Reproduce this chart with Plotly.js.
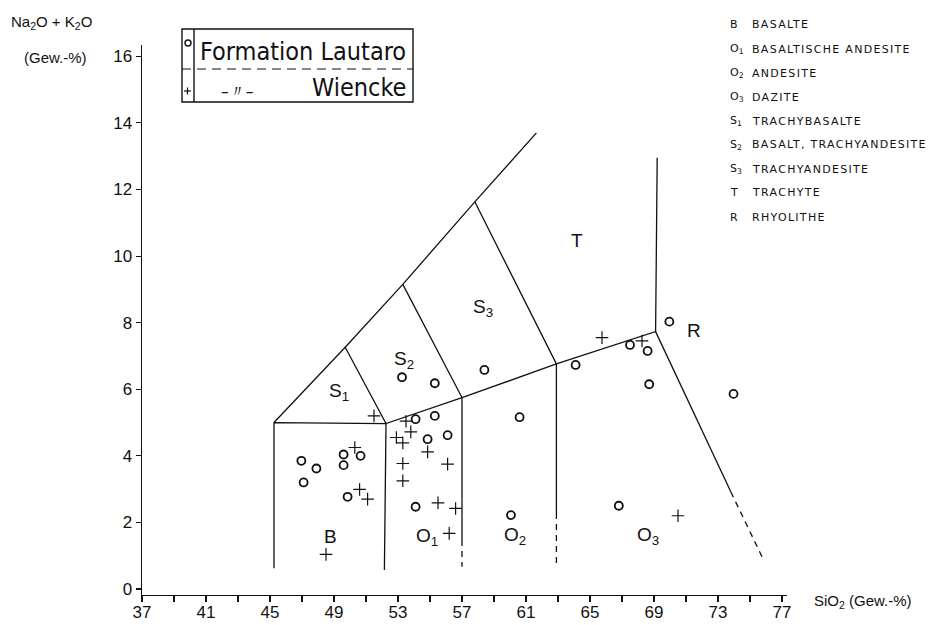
<!DOCTYPE html>
<html>
<head>
<meta charset="utf-8">
<script src="https://cdn.plot.ly/plotly-3.0.1.min.js"></script>
<style>html,body{margin:0;padding:0;background:#fff;}#chart{width:941px;height:625px;}</style>
</head>
<body>
<div id="chart"></div>
<script>
// ---- data: Formation Lautaro (circles)
const lautaroSiO2 = [53.25, 55.3, 58.4, 54.1, 55.3, 54.85, 56.1, 46.96, 47.9, 47.1, 49.6, 50.66, 49.6, 49.85, 54.1, 60.6, 60.06, 64.1, 67.5, 68.6, 68.7, 69.96, 73.97, 66.8];
const lautaroAlk  = [6.36, 6.18, 6.58, 5.10, 5.2, 4.5, 4.62, 3.85, 3.62, 3.2, 4.04, 4.0, 3.72, 2.77, 2.47, 5.16, 2.22, 6.73, 7.33, 7.15, 6.15, 8.03, 5.86, 2.5];
// ---- data: Wiencke (crosses)
const wienckeSiO2 = [51.5, 53.5, 53.8, 52.9, 53.3, 54.85, 53.3, 53.3, 56.1, 50.3, 50.6, 51.1, 55.5, 56.6, 56.2, 48.5, 65.75, 68.25, 70.5];
const wienckeAlk  = [5.2, 5.04, 4.72, 4.55, 4.39, 4.12, 3.77, 3.25, 3.75, 4.25, 2.99, 2.70, 2.59, 2.42, 1.67, 1.04, 7.55, 7.45, 2.2];

// ---- field boundaries (solid), null separates segments
const solidX = [45.25, 45.25, 52.25, 52.15, null,
                45.25, 49.7, 53.3, 57.8, 61.65, null,
                49.7, 52.25, 57.0, 62.9, 69.1, 69.2, null,
                53.3, 57.0, 57.0, null,
                57.8, 62.9, 62.9, null,
                69.1, 73.8];
const solidY = [0.62, 5.0, 4.97, 0.57, null,
                5.0, 7.26, 9.15, 11.63, 13.7, null,
                7.26, 4.97, 5.75, 6.76, 7.73, 12.95, null,
                9.15, 5.75, 1.47, null,
                11.63, 6.76, 2.28, null,
                7.73, 2.92];
// ---- field boundaries (dashed)
const dashX = [57.0, 57.0, null, 62.9, 62.9, null, 73.8, 75.8];
const dashY = [1.47, 0.67, null, 2.28, 0.67, null, 2.92, 0.92];

// ---- field labels
const fieldText = ['B', 'O<sub>1</sub>', 'O<sub>2</sub>', 'O<sub>3</sub>', 'S<sub>1</sub>', 'S<sub>2</sub>', 'S<sub>3</sub>', 'T', 'R'];
const fieldX = [48.8, 54.8, 60.3, 68.6, 49.3, 53.4, 58.3, 64.2, 71.5];
const fieldY = [1.57, 1.57, 1.6, 1.6, 5.92, 6.88, 8.43, 10.46, 7.76];

// ---- key list (top right)
const keyCodes = ['B', 'O<sub>1</sub>', 'O<sub>2</sub>', 'O<sub>3</sub>', 'S<sub>1</sub>', 'S<sub>2</sub>', 'S<sub>3</sub>', 'T', 'R'];
const keyNames = ['BASALTE', 'BASALTISCHE ANDESITE', 'ANDESITE', 'DAZITE', 'TRACHYBASALTE', 'BASALT, TRACHYANDESITE', 'TRACHYANDESITE', 'TRACHYTE', 'RHYOLITHE'];

// ---- axis ticks
const xTicks = [37, 41, 45, 49, 53, 57, 61, 65, 69, 73, 77];
const xMinorTicks = [39, 43, 47, 51, 55, 59, 63, 67, 71, 75];
const yTicks = [0, 2, 4, 6, 8, 10, 12, 14, 16];

// pixel helpers for paper coordinates (plot area: l=142, w=645, t=45, h=550)
const L = 142, W = 645, T = 45, H = 550;
const fx = px => (px - L) / W;
const fy = py => (T + H - py) / H;

const tickFont = {family: 'Liberation Sans Narrow, Liberation Sans, Arial, sans-serif', size: 17, color: '#111'};
const labFont = {family: 'Liberation Sans, Arial, sans-serif', size: 15, color: '#111'};
const stencil = {family: 'DejaVu Sans Condensed, DejaVu Sans, sans-serif', size: 25, color: '#111'};

const traces = [
  {x: solidX, y: solidY, mode: 'lines', line: {color: '#111', width: 1.3}, hoverinfo: 'skip', showlegend: false, connectgaps: false},
  {x: dashX, y: dashY, mode: 'lines', line: {color: '#111', width: 1.3, dash: '6px,5px'}, hoverinfo: 'skip', showlegend: false, connectgaps: false},
  {x: lautaroSiO2, y: lautaroAlk, mode: 'markers', name: 'Formation Lautaro',
   marker: {symbol: 'circle-open', size: 8, color: '#111', line: {width: 1.8}}, showlegend: false},
  {x: wienckeSiO2, y: wienckeAlk, mode: 'markers', name: 'Wiencke',
   marker: {symbol: 'cross-thin-open', size: 9, color: '#111', line: {width: 1.2}}, showlegend: false}
];

const annotations = [];
fieldText.forEach((t, i) => annotations.push({x: fieldX[i], y: fieldY[i], xref: 'x', yref: 'y', text: t, showarrow: false,
  font: {family: 'Liberation Sans, Arial, sans-serif', size: 19, color: '#111'}}));
keyCodes.forEach((t, i) => {
  const py = 25 + 24 * i;
  annotations.push({x: fx(728), y: fy(py), xref: 'paper', yref: 'paper', text: t, showarrow: false, xanchor: 'left', yanchor: 'middle',
    font: {family: 'DejaVu Sans, sans-serif', size: 11, color: '#111'}});
  annotations.push({x: fx(750), y: fy(py), xref: 'paper', yref: 'paper', text: keyNames[i], showarrow: false, xanchor: 'left', yanchor: 'middle',
    font: {family: 'DejaVu Sans, sans-serif', size: 11, color: '#111'}});
});
annotations.push({x: fx(9), y: fy(23), xref: 'paper', yref: 'paper', text: 'Na<sub>2</sub>O + K<sub>2</sub>O', showarrow: false, xanchor: 'left', yanchor: 'middle', font: labFont});
annotations.push({x: fx(22), y: fy(57), xref: 'paper', yref: 'paper', text: '(Gew.-%)', showarrow: false, xanchor: 'left', yanchor: 'middle', font: labFont});
annotations.push({x: fx(812), y: fy(601), xref: 'paper', yref: 'paper', text: 'SiO<sub>2</sub> (Gew.-%)', showarrow: false, xanchor: 'left', yanchor: 'middle', font: labFont});
annotations.push({x: fx(198), y: fy(52), xref: 'paper', yref: 'paper', text: 'Formation Lautaro', showarrow: false, xanchor: 'left', yanchor: 'middle', font: stencil});
annotations.push({x: fx(237), y: fy(91), xref: 'paper', yref: 'paper', text: '–〃–', showarrow: false, xanchor: 'center', yanchor: 'middle',
  font: {family: 'DejaVu Sans Condensed, DejaVu Sans, sans-serif', size: 17, color: '#111'}});
annotations.push({x: fx(408), y: fy(88), xref: 'paper', yref: 'paper', text: 'Wiencke', showarrow: false, xanchor: 'right', yanchor: 'middle', font: stencil});

const ln = {color: '#111', width: 1.4};
const shapes = [
  {type: 'rect', xref: 'paper', yref: 'paper', x0: fx(182), x1: fx(413), y0: fy(102), y1: fy(29), line: ln},
  {type: 'line', xref: 'paper', yref: 'paper', x0: fx(194), x1: fx(194), y0: fy(102), y1: fy(29), line: ln},
  {type: 'line', xref: 'paper', yref: 'paper', x0: fx(182), x1: fx(413), y0: fy(69), y1: fy(69), line: {color: '#111', width: 1.2, dash: '9px,6px'}},
  {type: 'circle', xref: 'paper', yref: 'paper', x0: fx(185), x1: fx(191), y0: fy(46), y1: fy(40), line: {color: '#111', width: 1.4}},
  {type: 'line', xref: 'paper', yref: 'paper', x0: fx(184), x1: fx(191), y0: fy(91), y1: fy(91), line: {color: '#111', width: 1.2}},
  {type: 'line', xref: 'paper', yref: 'paper', x0: fx(187.5), x1: fx(187.5), y0: fy(94.5), y1: fy(87.5), line: {color: '#111', width: 1.2}}
];

const layout = {
  width: 941, height: 625,
  margin: {l: L, r: 941 - L - W, t: T, b: 625 - T - H, pad: 0},
  paper_bgcolor: '#fff', plot_bgcolor: '#fff',
  showlegend: false,
  xaxis: {range: [37, 77.3125], tickvals: xTicks, ticktext: xTicks.map(String), showgrid: false, zeroline: false,
    showline: true, linecolor: '#111', linewidth: 1.4, ticks: 'outside', ticklen: 6, tickwidth: 1.1, tickcolor: '#111',
    ticklabelstandoff: -5,
    minor: {tickvals: xMinorTicks, ticks: 'outside', ticklen: 6, tickwidth: 1.1, tickcolor: '#111', showgrid: false},
    tickfont: tickFont, fixedrange: true},
  yaxis: {range: [-0.18, 16.34], tickvals: yTicks, ticktext: yTicks.map(String), showgrid: false, zeroline: false,
    showline: true, linecolor: '#111', linewidth: 1.4, ticks: 'outside', ticklen: 5, tickwidth: 1.1, tickcolor: '#111',
    tickfont: tickFont, fixedrange: true},
  annotations: annotations,
  shapes: shapes
};

Plotly.newPlot('chart', traces, layout, {displayModeBar: false, staticPlot: true}).then(function () {
  // widen the spaced capitals of the key list, keeping the left edge fixed
  document.querySelectorAll('#chart text.annotation-text').forEach(function (t) {
    if (keyNames.indexOf(t.textContent) < 0) return;
    const w0 = t.getComputedTextLength();
    const x = parseFloat(t.getAttribute('x'));
    t.setAttribute('text-anchor', 'start');
    t.setAttribute('x', x - w0 / 2);
    t.style.letterSpacing = '1.3px';
  });
});
</script>
</body>
</html>
